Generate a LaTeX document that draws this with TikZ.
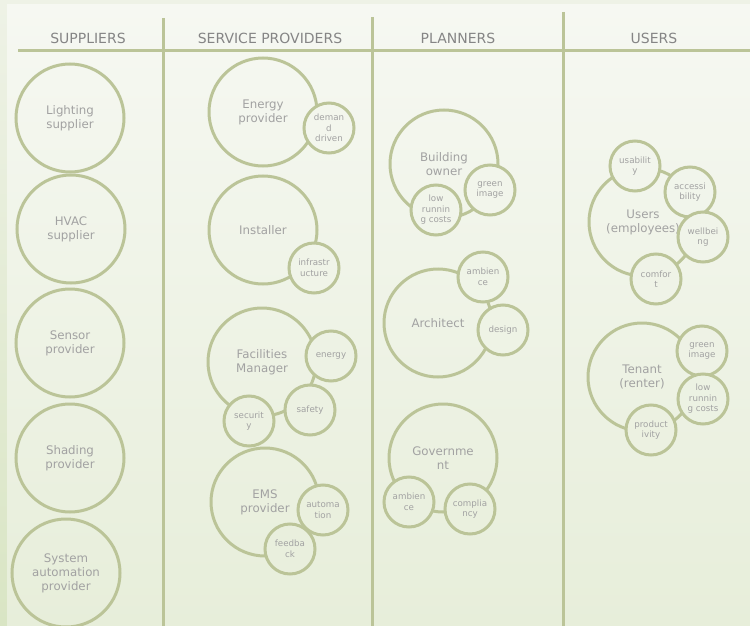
\documentclass[tikz,border=0pt]{standalone}
\usepackage{fontspec}
\setmainfont{DejaVu Sans}
\usepackage{tikz}
\definecolor{ring}{HTML}{BBC498}
\definecolor{outertop}{HTML}{EEF2E6}
\definecolor{outerbot}{HTML}{D9E5C4}
\definecolor{paneltop}{HTML}{F6F8F2}
\definecolor{panelbot}{HTML}{E7EEDA}
\definecolor{label}{HTML}{A2A2A2}
\definecolor{head}{HTML}{858585}
\tikzstyle{Role}=[circle, draw=ring, line width=3pt, minimum size=108pt, inner sep=0pt, align=center, text=label, font=\fontsize{11.8}{14}\selectfont]
\tikzstyle{Head}=[text=head, font=\fontsize{14}{16}\selectfont]
\tikzstyle{Rule}=[draw=ring, line width=3pt]
\tikzset{Aspect/.style={circle, draw=ring, line width=3pt, minimum size=50pt, inner sep=0pt, align=center, text=label, font=\fontsize{8.7}{10.5}\selectfont, fill=panelbot!#1!paneltop}}

\begin{document}
\begin{tikzpicture}[x=1pt, y=-1pt]
    \useasboundingbox (0,0) rectangle (750,626);
    \fill[top color=outertop, bottom color=outerbot] (0,0) rectangle (750,626);
    \fill[top color=paneltop, bottom color=panelbot] (7,5) rectangle (750,626);

    \path
    (88,38) node[Head] (suppliers) {SUPPLIERS}
    (270,38) node[Head] (services) {SERVICE PROVIDERS}
    (458,38) node[Head] (planners) {PLANNERS}
    (654,38) node[Head] (users) {USERS};

    \draw[Rule] (18,51) -- (750,51);
    \draw[Rule] (163,18) -- (163,626);
    \draw[Rule] (372,17) -- (372,626);
    \draw[Rule] (563,12) -- (563,626);

    \path
    (70,118) node[Role] (lighting) {Lighting\\supplier}
    (71,229) node[Role] (hvac) {HVAC\\supplier}
    (70,343) node[Role] (sensor) {Sensor\\provider}
    (70,458) node[Role] (shading) {Shading\\provider}
    (66,573) node[Role] (sysauto) {System\\automation\\provider};

    \path
    (263,112) node[Role] (energy) {Energy\\provider}
    (329,128) node[Aspect=20] (demand) {deman\\d\\driven}
    (263,230) node[Role] (installer) {Installer}
    (314,268) node[Aspect=43] (infra) {infrastr\\ucture}
    (262,362) node[Role] (facilities) {Facilities\\Manager}
    (331,356) node[Aspect=57] (fmenergy) {energy}
    (310,410) node[Aspect=66] (safety) {safety}
    (249,421) node[Aspect=68] (security) {securit\\y}
    (265,502) node[Role] (ems) {EMS\\provider}
    (323,510) node[Aspect=82] (automation) {automa\\tion}
    (290,549) node[Aspect=88] (feedback) {feedba\\ck};

    \path
    (444,164) node[Role] (owner) {Building\\owner}
    (490,190) node[Aspect=30] (ownergreen) {green\\image}
    (436,210) node[Aspect=34] (ownercost) {low\\runnin\\g costs}
    (438,323) node[Role] (architect) {Architect}
    (483,277) node[Aspect=44] (archamb) {ambien\\ce}
    (503,330) node[Aspect=53] (design) {design}
    (443,458) node[Role] (government) {Governme\\nt}
    (409,502) node[Aspect=81] (govamb) {ambien\\ce}
    (470,509) node[Aspect=82] (compliancy) {complia\\ncy};

    \path
    (643,222) node[Role] (employees) {Users\\(employees)}
    (635,166) node[Aspect=27] (usability) {usabilit\\y}
    (690,192) node[Aspect=31] (access) {accessi\\bility}
    (703,237) node[Aspect=38] (wellbeing) {wellbei\\ng}
    (656,279) node[Aspect=45] (comfort) {comfor\\t}
    (642,377) node[Role] (tenant) {Tenant\\(renter)}
    (702,351) node[Aspect=56] (tenantgreen) {green\\image}
    (703,399) node[Aspect=64] (tenantcost) {low\\runnin\\g costs}
    (651,430) node[Aspect=69] (productivity) {product\\ivity};
\end{tikzpicture}
\end{document}
